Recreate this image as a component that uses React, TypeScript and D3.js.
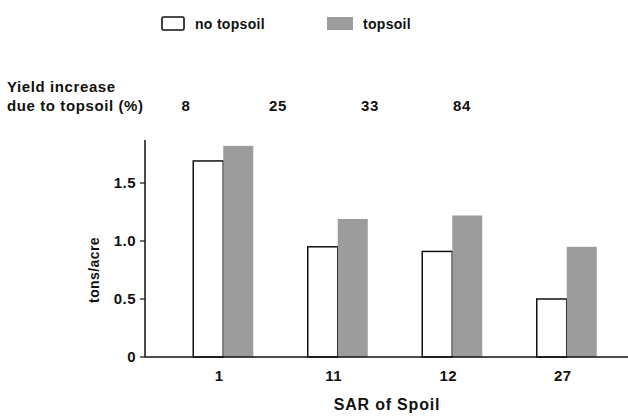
import { useEffect, useRef } from 'react';
import * as d3 from 'd3';

const categories = ['1', '11', '12', '27'];
const noTopsoil = [1.69, 0.95, 0.91, 0.5];
const topsoil = [1.82, 1.19, 1.22, 0.95];
const yieldIncrease = ['8', '25', '33', '84'];
const yTicks = [0, 0.5, 1.0, 1.5];
const yTickLabels = ['0', '0.5', '1.0', '1.5'];

const W = 628;
const H = 420;
const FONT = '"Liberation Sans", Arial, sans-serif';
const GRAY = '#9c9c9c';

export default function App() {
  const svgRef = useRef<SVGSVGElement>(null);

  useEffect(() => {
    if (!svgRef.current) return;
    const svg = d3.select(svgRef.current);
    svg.selectAll('*').remove();

    const axisX = 145;
    const x = d3.scaleBand<string>().domain(categories).range([166, 624]);
    const y = d3.scaleLinear().domain([0, 1.5]).range([357, 183]);
    const barW = 30;

    // legend
    const legend = svg.append('g').attr('font-family', FONT).attr('font-size', 14).attr('font-weight', 'bold')
      .attr('letter-spacing', 0.3);
    legend.append('rect').attr('x', 162).attr('y', 17).attr('width', 22).attr('height', 13).attr('rx', 1.5)
      .attr('fill', 'white').attr('stroke', '#111').attr('stroke-width', 1.6);
    legend.append('text').attr('x', 195).attr('y', 29).attr('fill', '#111').text('no topsoil');
    legend.append('rect').attr('x', 327).attr('y', 17).attr('width', 26).attr('height', 13).attr('fill', GRAY);
    legend.append('text').attr('x', 363).attr('y', 29).attr('fill', '#111').text('topsoil');

    // yield increase row
    const top = svg.append('g').attr('font-family', FONT).attr('font-size', 15).attr('font-weight', 'bold')
      .attr('letter-spacing', 0.6).attr('fill', '#111');
    top.append('text').attr('x', 7).attr('y', 92).text('Yield increase');
    top.append('text').attr('x', 7).attr('y', 111).text('due to topsoil (%)');
    const px = d3.scalePoint<string>().domain(categories).range([186, 462]);
    top.selectAll('text.inc').data(yieldIncrease).enter().append('text')
      .attr('class', 'inc')
      .attr('x', (_, i) => px(categories[i])!)
      .attr('y', 111)
      .attr('text-anchor', 'middle')
      .text(d => d);

    const g = svg.append('g');

    // bars
    g.selectAll('rect.no').data(noTopsoil).enter().append('rect')
      .attr('class', 'no')
      .attr('x', (_, i) => x(categories[i])! + x.bandwidth() / 2 - barW)
      .attr('y', d => y(d))
      .attr('width', barW)
      .attr('height', d => y(0) - y(d))
      .attr('fill', 'white')
      .attr('stroke', '#111')
      .attr('stroke-width', 1.5);

    g.selectAll('rect.ts').data(topsoil).enter().append('rect')
      .attr('class', 'ts')
      .attr('x', (_, i) => x(categories[i])! + x.bandwidth() / 2)
      .attr('y', d => y(d))
      .attr('width', barW)
      .attr('height', d => y(0) - y(d))
      .attr('fill', GRAY);

    // axes
    g.append('line').attr('x1', axisX).attr('x2', W).attr('y1', y(0)).attr('y2', y(0))
      .attr('stroke', '#111').attr('stroke-width', 1.5);
    g.append('line').attr('x1', axisX).attr('x2', axisX).attr('y1', 140).attr('y2', y(0))
      .attr('stroke', '#111').attr('stroke-width', 1.5);

    const ticks = g.append('g').attr('font-family', FONT).attr('font-size', 15).attr('font-weight', 'bold')
      .attr('letter-spacing', 0.5).attr('fill', '#111');
    yTicks.forEach((t, i) => {
      ticks.append('line').attr('x1', axisX - 5).attr('x2', axisX).attr('y1', y(t)).attr('y2', y(t))
        .attr('stroke', '#111').attr('stroke-width', 1.2);
      ticks.append('text').attr('x', axisX - 9).attr('y', y(t) + 5).attr('text-anchor', 'end').text(yTickLabels[i]);
    });

    categories.forEach(c => {
      ticks.append('text').attr('x', x(c)! + x.bandwidth() / 2 - 4).attr('y', 381)
        .attr('text-anchor', 'middle').text(c);
    });

    ticks.append('text').attr('x', 387).attr('y', 410).attr('text-anchor', 'middle')
      .attr('font-size', 16).attr('letter-spacing', 0.8).text('SAR of Spoil');
    ticks.append('text').attr('transform', `translate(99,270) rotate(-90)`)
      .attr('text-anchor', 'middle').attr('font-size', 14).attr('letter-spacing', 0.4).text('tons/acre');
  }, []);

  return (
    <svg ref={svgRef} width={W} height={H}
      style={{ position: 'absolute', left: 0, top: 0, background: 'white' }} />
  );
}
